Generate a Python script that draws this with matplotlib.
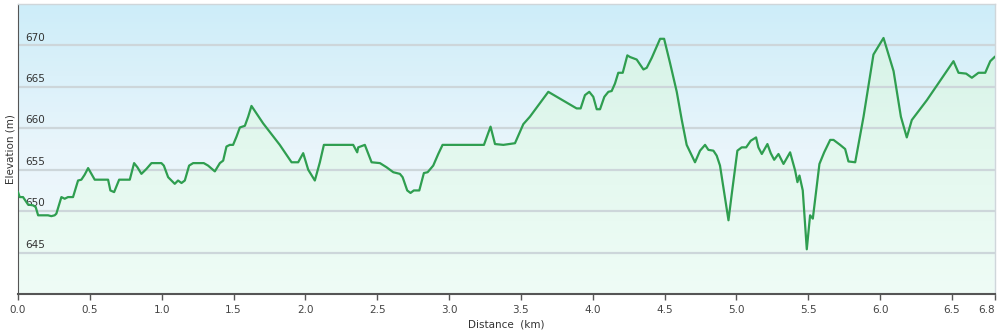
import numpy as np
import matplotlib
matplotlib.use("Agg")
import matplotlib.pyplot as plt
from matplotlib.colors import LinearSegmentedColormap

# elevation profile (km, m)
dist_km = [
    0.000, 0.012, 0.035, 0.070, 0.105, 0.123, 0.140, 0.209, 0.232, 0.255,
    0.267, 0.302, 0.325, 0.348, 0.383, 0.418, 0.441, 0.464, 0.488, 0.511,
    0.534, 0.627, 0.643, 0.669, 0.704, 0.778, 0.808, 0.831, 0.859, 0.894,
    0.929, 0.998, 1.015, 1.045, 1.091, 1.114, 1.138, 1.161, 1.191, 1.219,
    1.293, 1.323, 1.370, 1.405, 1.428, 1.451, 1.474, 1.497, 1.521, 1.544,
    1.579, 1.602, 1.625, 1.706, 1.822, 1.904, 1.950, 1.985, 2.020, 2.066,
    2.101, 2.129, 2.171, 2.333, 2.361, 2.368, 2.414, 2.461, 2.519, 2.565,
    2.612, 2.658, 2.677, 2.709, 2.732, 2.755, 2.793, 2.825, 2.851, 2.890,
    2.925, 2.955, 3.243, 3.289, 3.320, 3.378, 3.459, 3.517, 3.563, 3.691,
    3.888, 3.916, 3.946, 3.976, 4.004, 4.028, 4.051, 4.081, 4.109, 4.132,
    4.155, 4.178, 4.209, 4.241, 4.260, 4.306, 4.353, 4.376, 4.411, 4.469,
    4.497, 4.538, 4.585, 4.620, 4.654, 4.712, 4.747, 4.782, 4.805, 4.840,
    4.863, 4.886, 4.945, 4.968, 5.007, 5.037, 5.068, 5.100, 5.137, 5.153,
    5.177, 5.216, 5.239, 5.263, 5.293, 5.328, 5.374, 5.409, 5.425, 5.439,
    5.462, 5.490, 5.513, 5.532, 5.578, 5.611, 5.653, 5.676, 5.722, 5.757,
    5.780, 5.827, 5.885, 5.954, 6.024, 6.094, 6.145, 6.186, 6.221, 6.326,
    6.511, 6.546, 6.599, 6.639, 6.685, 6.732, 6.767, 6.797,
]
elev_m = [
    652.3, 651.7, 651.7, 650.8, 650.7, 650.5, 649.5, 649.5, 649.4, 649.5,
    649.7, 651.7, 651.5, 651.7, 651.7, 653.7, 653.8, 654.4, 655.2, 654.5,
    653.8, 653.8, 652.5, 652.3, 653.8, 653.8, 655.8, 655.3, 654.5, 655.1,
    655.8, 655.8, 655.5, 654.1, 653.3, 653.7, 653.4, 653.7, 655.5, 655.8,
    655.8, 655.5, 654.8, 655.8, 656.1, 657.8, 658.0, 658.0, 659.0, 660.1,
    660.3, 661.4, 662.7, 660.6, 658.0, 655.9, 655.9, 657.0, 655.0, 653.7,
    655.9, 658.0, 658.0, 658.0, 657.1, 657.7, 658.0, 655.9, 655.8, 655.3,
    654.7, 654.5, 654.1, 652.5, 652.2, 652.5, 652.5, 654.6, 654.7, 655.5,
    656.9, 658.0, 658.0, 660.2, 658.1, 658.0, 658.2, 660.5, 661.4, 664.4,
    662.4, 662.4, 664.0, 664.4, 663.8, 662.3, 662.3, 663.8, 664.4, 664.5,
    665.4, 666.7, 666.7, 668.8, 668.6, 668.3, 667.1, 667.3, 668.5, 670.8,
    670.8, 667.9, 664.4, 661.0, 658.0, 655.9, 657.3, 658.0, 657.4, 657.3,
    656.7, 655.5, 648.9, 652.1, 657.3, 657.7, 657.7, 658.5, 658.9, 657.7,
    656.9, 658.1, 657.0, 656.2, 656.9, 655.7, 657.1, 654.9, 653.5, 654.3,
    652.5, 645.4, 649.5, 649.1, 655.7, 657.1, 658.6, 658.6, 658.0, 657.5,
    656.0, 655.9, 661.4, 668.9, 670.9, 666.9, 661.4, 658.9, 661.0, 663.4,
    668.1, 666.7, 666.6, 666.1, 666.7, 666.7, 668.1, 668.6,
]
x_ticks = [0.0, 0.5, 1.0, 1.5, 2.0, 2.5, 3.0, 3.5, 4.0, 4.5, 5.0, 5.5, 6.0, 6.5, 6.8]
y_ticks = [645, 650, 655, 660, 665, 670]

x_min, x_max = 0.0, 6.8
y_min, y_max = 640, 675

fig = plt.figure(figsize=(10, 3.33), dpi=100)
ax = fig.add_axes([0.018, 0.117, 0.977, 0.871])
ax.set_xlim(x_min, x_max)
ax.set_ylim(y_min, y_max)

# sky gradient behind everything
sky = LinearSegmentedColormap.from_list("sky", ["#f3f9fd", "#e9f5fb", "#cdedf9"])
grad = np.linspace(0, 1, 256).reshape(-1, 1)
ax.imshow(grad, cmap=sky, aspect="auto", origin="lower",
          extent=[x_min, x_max, y_min, y_max], zorder=0)

# green gradient under the profile, clipped to the filled area
fill = ax.fill_between(dist_km, elev_m, y_min, facecolor="none",
                       edgecolor="none", zorder=1)
grn = LinearSegmentedColormap.from_list("grn", ["#effcf6", "#e3f8ee", "#d3f1e6"])
img = ax.imshow(grad, cmap=grn, aspect="auto", origin="lower",
                extent=[x_min, x_max, y_min, y_max], zorder=1)
img.set_clip_path(fill.get_paths()[0], transform=ax.transData)

for yv in y_ticks:
    ax.axhline(yv, color="#cdd6da", lw=1.6, zorder=2)
    ax.text(0.007, yv + 0.35, str(yv), transform=ax.get_yaxis_transform(),
            fontsize=7.5, color="#333333", ha="left", va="bottom", zorder=3)

ax.plot(dist_km, elev_m, color="#2f9e50", lw=1.6, zorder=4,
        solid_joinstyle="round")

ax.set_yticks([])
ax.set_xticks(x_ticks)
ax.set_xticklabels([f"{t:.1f}" for t in x_ticks], fontsize=7.5, color="#444444")
ax.get_xticklabels()[-1].set_horizontalalignment("right")
ax.tick_params(axis="x", direction="out", length=4, width=1, color="#555555", pad=4)

for side in ["top", "right"]:
    ax.spines[side].set_color("#cfd6da")
    ax.spines[side].set_linewidth(1)
ax.spines["left"].set_color("#555555")
ax.spines["bottom"].set_color("#555555")
ax.spines["bottom"].set_linewidth(1.5)

ax.set_ylabel("Elevation (m)", fontsize=7.5, color="#333333", labelpad=2)
ax.set_xlabel("Distance  (km)", fontsize=7.5, color="#333333", labelpad=3)

plt.savefig("out.png", dpi=100)
